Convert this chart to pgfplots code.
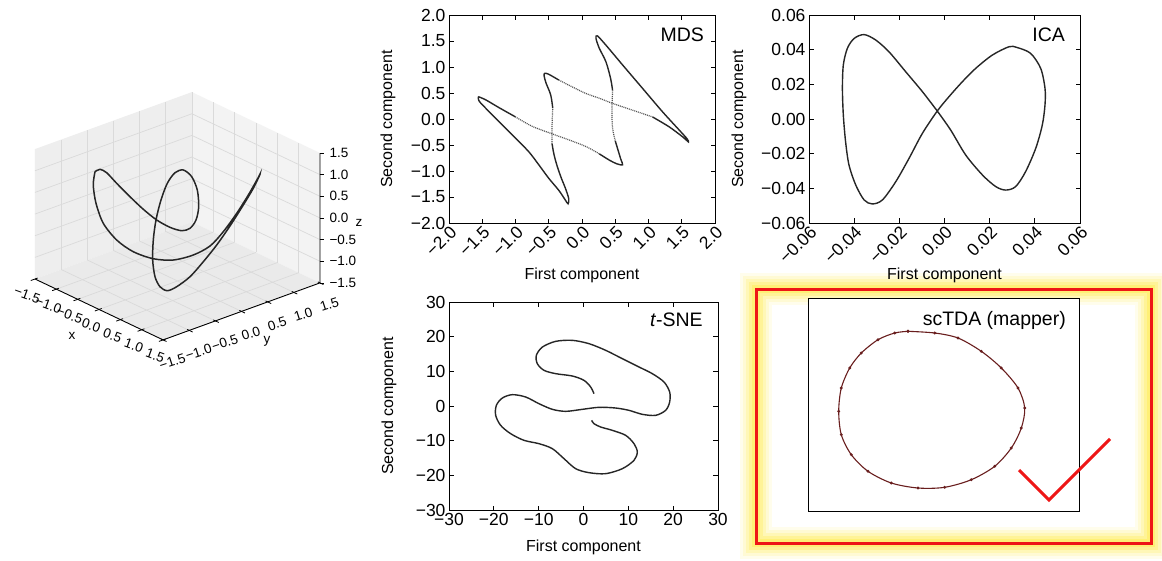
\documentclass[border=0pt]{standalone}
\usepackage{fontspec}
\setmainfont{Liberation Sans}
\usepackage{pgfplots}
\pgfplotsset{compat=1.18}
\definecolor{crv}{HTML}{262626}
\definecolor{paneA}{HTML}{EEEEEE}
\definecolor{paneB}{HTML}{F3F3F3}
\definecolor{paneC}{HTML}{EAEAEA}
\definecolor{gridc}{HTML}{DADADA}
\definecolor{glow}{RGB}{255,236,70}
\definecolor{hred}{RGB}{238,22,22}
\definecolor{mapc}{RGB}{105,30,30}
\newcommand{\tickfont}{\fontsize{17.5}{19}\selectfont}
\newcommand{\labfont}{\fontsize{16}{18}\selectfont}
\newcommand{\titfont}{\fontsize{19.5}{22}\selectfont}
\newcommand{\tdfont}{\fontsize{13.5}{15}\selectfont}
\newcommand{\xtl}[2]{\node[font=\tdfont,rotate=-20] at (axis cs:#1,-1.65,-1.8) {#2};}
\newcommand{\ytl}[2]{\node[font=\tdfont,rotate=18] at (axis cs:1.72,#1,-1.9) {#2};}
\newcommand{\ztl}[2]{\node[font=\tdfont,anchor=west,xshift=6pt] at (axis cs:1.5,1.5,#1) {#2};}
\pgfplotsset{
  panel/.style={scale only axis, anchor=north west,
    axis line style={line width=0.9pt,black},
    every tick/.style={black,line width=0.8pt},
    major tick length=4.5pt,
    scaled ticks=false,
    tick label style={font=\tickfont},
    label style={font=\labfont},
  },
  crvstyle/.style={crv, line width=1.4pt, smooth, mark=none},
  dotstyle/.style={gray!65!black, line width=1.2pt, dash pattern=on 1pt off 0.9pt, smooth, mark=none},
}
\begin{document}
\begin{tikzpicture}
\path[use as bounding box] (0pt,0pt) rectangle (1162pt,-560pt);
\fill[white] (0pt,0pt) rectangle (1162pt,-560pt);
% glow and highlight box
\foreach \w/\o in {32/0.10, 26/0.14, 20/0.2, 14/0.28, 8/0.4}{
  \draw[glow, line width=\w pt, opacity=\o] (756pt,-289pt) rectangle (1151pt,-543pt);
}
\draw[hred, line width=3pt] (756pt,-289pt) rectangle (1151pt,-543pt);

% ---------------- 3D panel ----------------
\begin{axis}[at={(177.5pt,-216pt)}, anchor=origin,
  x={(42.7pt,-20.3pt)}, y={(52.3pt,19pt)}, z={(0pt,43.3pt)},
  xmin=-1.5,xmax=1.5,ymin=-1.5,ymax=1.5,zmin=-1.5,zmax=1.5,
  hide axis, clip=false]
\fill[paneA] (axis cs:-1.5,-1.5,-1.5) -- (axis cs:-1.5,1.5,-1.5) -- (axis cs:-1.5,1.5,1.5) -- (axis cs:-1.5,-1.5,1.5) -- cycle;
\fill[paneB] (axis cs:-1.5,1.5,-1.5) -- (axis cs:1.5,1.5,-1.5) -- (axis cs:1.5,1.5,1.5) -- (axis cs:-1.5,1.5,1.5) -- cycle;
\fill[paneC] (axis cs:-1.5,-1.5,-1.5) -- (axis cs:1.5,-1.5,-1.5) -- (axis cs:1.5,1.5,-1.5) -- (axis cs:-1.5,1.5,-1.5) -- cycle;
\pgfplotsinvokeforeach{-1,-0.5,0,0.5,1}{
 \draw[gridc, line width=0.7pt] (axis cs:#1,-1.5,-1.5) -- (axis cs:#1,1.5,-1.5);
 \draw[gridc, line width=0.7pt] (axis cs:-1.5,#1,-1.5) -- (axis cs:1.5,#1,-1.5);
 \draw[gridc, line width=0.7pt] (axis cs:-1.5,#1,-1.5) -- (axis cs:-1.5,#1,1.5);
 \draw[gridc, line width=0.7pt] (axis cs:-1.5,-1.5,#1) -- (axis cs:-1.5,1.5,#1);
 \draw[gridc, line width=0.7pt] (axis cs:#1,1.5,-1.5) -- (axis cs:#1,1.5,1.5);
 \draw[gridc, line width=0.7pt] (axis cs:-1.5,1.5,#1) -- (axis cs:1.5,1.5,#1);
}
\draw[gridc, line width=0.7pt] (axis cs:-1.5,1.5,-1.5) -- (axis cs:-1.5,1.5,1.5);
\draw[black, line width=0.9pt] (axis cs:-1.5,-1.5,-1.5) -- (axis cs:1.5,-1.5,-1.5) -- (axis cs:1.5,1.5,-1.5) -- (axis cs:1.5,1.5,1.5);
\pgfplotsinvokeforeach{-1.5,-1,-0.5,0,0.5,1,1.5}{
 \draw[black, line width=0.8pt] (axis cs:#1,-1.45,-1.5) -- (axis cs:#1,-1.58,-1.5);
 \draw[black, line width=0.8pt] (axis cs:1.45,#1,-1.5) -- (axis cs:1.58,#1,-1.5);
 \draw[black, line width=0.8pt] (axis cs:1.5,1.5,#1) -- ++(4pt,0pt);
}
\xtl{-1.5}{−1.5}\xtl{-1}{−1.0}\xtl{-0.5}{−0.5}\xtl{0}{0.0}\xtl{0.5}{0.5}\xtl{1}{1.0}\xtl{1.5}{1.5}
\ytl{-1.5}{−1.5}\ytl{-1}{−1.0}\ytl{-0.5}{−0.5}\ytl{0}{0.0}\ytl{0.5}{0.5}\ytl{1}{1.0}\ytl{1.5}{1.5}
\ztl{-1.5}{−1.5}\ztl{-1}{−1.0}\ztl{-0.5}{−0.5}\ztl{0}{0.0}\ztl{0.5}{0.5}\ztl{1}{1.0}\ztl{1.5}{1.5}
\addplot3[crv, line width=1.5pt, smooth, mark=none] coordinates {
(-1.146,-0.642,0.767) (-1.112,-0.574,0.809) (-1.021,-0.521,0.750) (-0.845,-0.473,0.566)
(-0.617,-0.405,0.334) (-0.394,-0.332,0.116) (-0.183,-0.248,-0.069) (0.003,-0.146,-0.196)
(0.145,-0.038,-0.255) (0.213,0.065,-0.213) (0.216,0.178,-0.069) (0.150,0.283,0.161)
(0.019,0.363,0.450) (-0.130,0.378,0.681) (-0.262,0.325,0.797) (-0.328,0.220,0.750)
(-0.332,0.076,0.566) (-0.279,-0.088,0.277) (-0.190,-0.256,-0.069) (-0.078,-0.399,-0.416)
(0.056,-0.520,-0.762) (0.196,-0.590,-1.051) (0.316,-0.593,-1.225) (0.418,-0.536,-1.294)
(0.485,-0.412,-1.225) (0.551,-0.210,-1.051) (0.581,0.019,-0.792) (0.600,0.260,-0.502)
(0.602,0.512,-0.173) (0.591,0.776,0.191) (0.576,0.979,0.480) (0.552,1.107,0.681)
(0.544,1.134,0.727) (0.553,1.074,0.636) (0.572,0.887,0.364) (0.582,0.657,0.047)
(0.574,0.407,-0.272) (0.539,0.181,-0.520) (0.433,-0.051,-0.675) (0.265,-0.296,-0.762)
(0.053,-0.506,-0.740) (-0.199,-0.683,-0.618) (-0.449,-0.796,-0.416) (-0.702,-0.846,-0.126)
(-0.915,-0.811,0.220) (-1.071,-0.736,0.537) (-1.146,-0.642,0.767)
};
\end{axis}
\node[font=\tdfont] at (72pt,-336pt) {x};
\node[font=\tdfont] at (267pt,-341pt) {y};
\node[font=\tdfont] at (359pt,-223pt) {z};

% ---------------- MDS ----------------
\begin{axis}[panel, at={(449pt,-15pt)}, width=266pt, height=208pt,
  xmin=-2,xmax=2,ymin=-2,ymax=2,
  xtick={-2,-1.5,-1,-0.5,0,0.5,1,1.5,2},
  xticklabels={−2.0,−1.5,−1.0,−0.5,0.0,0.5,1.0,1.5,2.0},
  ytick={-2,-1.5,-1,-0.5,0,0.5,1,1.5,2},
  yticklabels={−2.0,−1.5,−1.0,−0.5,0.0,0.5,1.0,1.5,2.0},
  xticklabel style={rotate=45,anchor=north east,inner sep=1pt},
  xlabel={First component}, ylabel={Second component},
  xlabel style={at={(axis description cs:0.5,-0.25)},anchor=center},
  ylabel style={at={(axis description cs:-0.229,0.5)},anchor=center}]
\addplot[crvstyle] coordinates {(-1.56,0.43) (-1.55,0.35) (-1.45,0.21) (-1.25,-0.05) (-1.0,-0.37) (-0.80,-0.63) (-0.65,-0.88) (-0.50,-1.14) (-0.35,-1.37) (-0.26,-1.54) (-0.21,-1.63) (-0.20,-1.53) (-0.25,-1.33) (-0.31,-1.14) (-0.37,-0.92) (-0.42,-0.69) (-0.45,-0.48)};
\addplot[dotstyle] coordinates {(-0.45,-0.48) (-0.45,-0.12) (-0.44,0.21)};
\addplot[crvstyle] coordinates {(-0.44,0.21) (-0.47,0.46) (-0.54,0.69) (-0.57,0.83) (-0.56,0.88) (-0.50,0.86) (-0.35,0.75)};
\addplot[dotstyle] coordinates {(-0.35,0.75) (-0.15,0.62) (0.06,0.49) (0.26,0.40) (0.46,0.30) (0.76,0.17) (1.06,0.04)};
\addplot[crvstyle] coordinates {(1.06,0.04) (1.31,-0.15) (1.51,-0.34) (1.60,-0.44) (1.58,-0.38) (1.46,-0.21) (1.21,0.14) (0.91,0.59) (0.61,1.04) (0.36,1.42) (0.23,1.60) (0.21,1.55) (0.26,1.36) (0.36,1.10) (0.43,0.78) (0.46,0.55)};
\addplot[dotstyle] coordinates {(0.46,0.55) (0.45,0.14) (0.46,-0.18) (0.50,-0.42)};
\addplot[crvstyle] coordinates {(0.50,-0.42) (0.58,-0.76) (0.61,-0.88) (0.52,-0.86) (0.41,-0.79) (0.26,-0.67)};
\addplot[dotstyle] coordinates {(0.26,-0.67) (0.06,-0.53) (-0.20,-0.40) (-0.44,-0.29) (-0.75,-0.14) (-1.0,0.04)};
\addplot[crvstyle] coordinates {(-1.0,0.04) (-1.25,0.22) (-1.45,0.37) (-1.56,0.43)};
\node[anchor=base east, font=\titfont, inner sep=0pt] at (axis description cs:0.959,0.872) {MDS};
\end{axis}

% ---------------- ICA ----------------
\begin{axis}[panel, at={(809pt,-15pt)}, width=271pt, height=208pt,
  xmin=-0.06,xmax=0.06,ymin=-0.06,ymax=0.06,
  xtick={-0.06,-0.04,-0.02,0,0.02,0.04,0.06},
  xticklabels={−0.06,−0.04,−0.02,0.00,0.02,0.04,0.06},
  ytick={-0.06,-0.04,-0.02,0,0.02,0.04,0.06},
  yticklabels={−0.06,−0.04,−0.02,0.00,0.02,0.04,0.06},
  xticklabel style={rotate=45,anchor=north east,inner sep=1pt},
  xlabel={First component}, ylabel={Second component},
  xlabel style={at={(axis description cs:0.5,-0.25)},anchor=center},
  ylabel style={at={(axis description cs:-0.258,0.5)},anchor=center}]
\addplot[crvstyle] coordinates {
(-0.0032,0.0046) (-0.0098,0.0158) (-0.0172,0.0273) (-0.0246,0.0388) (-0.0305,0.0456)
(-0.0356,0.0487) (-0.0400,0.0465) (-0.0430,0.0408) (-0.0448,0.0312) (-0.0452,0.0177)
(-0.0448,0.0023) (-0.0438,-0.0131) (-0.0423,-0.0265) (-0.0393,-0.0381) (-0.0356,-0.0467)
(-0.0320,-0.0490) (-0.0275,-0.0467) (-0.0216,-0.0362) (-0.0157,-0.0227) (-0.0098,-0.0083)
(-0.0032,0.0046) (0.0020,0.0129) (0.0079,0.0215) (0.0138,0.0292) (0.0212,0.0369)
(0.0286,0.0417) (0.0320,0.0413) (0.0381,0.0379) (0.0426,0.0292) (0.0445,0.0177)
(0.0445,0.0081) (0.0433,-0.0035) (0.0404,-0.0169) (0.0359,-0.0304) (0.0315,-0.0390)
(0.0271,-0.0410) (0.0227,-0.0390) (0.0168,-0.0323) (0.0094,-0.0208) (0.0027,-0.0063)
(-0.0032,0.0046)};
\node[anchor=base east, font=\titfont, inner sep=0pt] at (axis description cs:0.945,0.872) {ICA};
\end{axis}

% ---------------- t-SNE ----------------
\begin{axis}[panel, at={(449pt,-302pt)}, width=269pt, height=208pt,
  xmin=-30,xmax=30,ymin=-30,ymax=30,
  xtick={-30,-20,-10,0,10,20,30},
  xticklabels={−30,−20,−10,0,10,20,30},
  ytick={-30,-20,-10,0,10,20,30},
  yticklabels={−30,−20,−10,0,10,20,30},
  xlabel={First component}, ylabel={Second component},
  xlabel style={at={(axis description cs:0.5,-0.178)},anchor=center},
  ylabel style={at={(axis description cs:-0.223,0.5)},anchor=center}]
\addplot[crvstyle] coordinates {
(2.34,3.56) (1.60,5.48) (0.11,7.40) (-2.49,8.65) (-6.21,9.33) (-8.81,10.29) (-10.30,12.2)
(-10.52,14.6) (-9.18,17.0) (-6.21,18.65) (-2.49,18.94) (1.23,17.98) (4.95,16.06) (8.66,13.65)
(12.38,11.25) (15.35,9.33) (17.96,6.92) (19.22,4.04) (19.22,1.15) (18.33,-1.25) (16.1,-2.69)
(13.12,-2.40) (10.15,-1.25) (7.17,-0.58) (3.46,-0.38) (-0.26,-0.96) (-3.98,-1.54) (-6.95,-0.96)
(-9.93,0.67) (-12.9,2.60) (-15.87,3.27) (-18.1,2.31) (-19.44,0.19) (-19.59,-2.69) (-18.48,-5.58)
(-16.25,-7.98) (-13.27,-9.90) (-9.93,-10.87) (-6.95,-12.3) (-4.35,-15.19) (-1.75,-18.08)
(1.23,-19.23) (4.95,-19.52) (8.66,-18.08) (11.27,-15.67) (12.0,-13.27) (11.27,-10.87)
(9.41,-8.46) (6.43,-7.02) (3.83,-6.06) (2.34,-5.10) (1.82,-4.13)};
\node[anchor=base east, font=\titfont, inner sep=0pt] at (axis description cs:0.944,0.880) {\textit{t}-SNE};
\end{axis}

% ---------------- scTDA ----------------
\begin{axis}[panel, at={(808pt,-298pt)}, width=271pt, height=213pt,
  xmin=0,xmax=271,ymin=0,ymax=213, ticks=none, axis background/.style={fill=white}]
\addplot[mapc, line width=1.1pt, smooth, mark=*, mark size=0.8pt, mark options={fill=mapc,draw=mapc}] coordinates {
(100,179.7) (126.7,178) (150,173) (173.3,159.7) (193.3,143) (210,123) (216.7,103) (213.3,83)
(203.3,63) (186.7,44.7) (163.3,31.3) (136.7,23.7) (110,23) (83.3,28) (60,39.7) (43.3,56.3)
(33.3,76.3) (30.7,99.7) (33.3,123) (41.7,143) (53.3,158) (70,171.3) (86.7,178) (100,179.7)};
\node[anchor=base east, font=\titfont, inner sep=0pt] at (axis description cs:0.952,0.873) {scTDA (mapper)};
\end{axis}
\draw[hred, line width=3pt] (1019pt,-470pt) -- (1049pt,-500pt) -- (1110pt,-439pt);
\end{tikzpicture}
\end{document}
